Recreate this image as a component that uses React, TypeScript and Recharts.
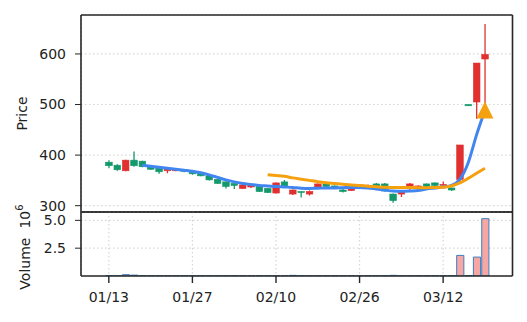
import { Bar, CartesianGrid, Cell, ComposedChart, Line, Scatter, XAxis, YAxis } from "recharts";

const dates = [
  "01/13", "01/14", "01/15", "01/16", "01/17", "01/20", "01/21", "01/22", "01/23", "01/24",
  "01/27", "01/28", "01/29", "01/30", "01/31", "02/03", "02/04", "02/05", "02/06", "02/07",
  "02/10", "02/11", "02/12", "02/13", "02/14", "02/18", "02/19", "02/20", "02/21", "02/24",
  "02/26", "02/27", "02/28", "03/03", "03/04", "03/05", "03/06", "03/07", "03/10", "03/11",
  "03/12", "03/13", "03/14", "03/17", "03/18", "03/19",
];

const opens = [
  379, 371, 390, 379, 377, 372, 367, 374, 372, 368,
  363, 359, 351, 344, 338, 340, 341, 341, 328, 326,
  345, 338, 331, 326, 328, 343, 338, 336, 328, 336,
  341, 340, 333, 329, 310, 328, 343, 339, 338, 340,
  342, 331, 420, 497.5, 582, 599,
];
const highs = [
  390, 382, 391, 407, 389, 380, 376, 375, 373, 372,
  368, 366, 360, 353, 348, 345, 342, 342, 339, 335,
  346, 351, 332, 328, 330, 344, 344, 340, 334, 337,
  343, 342, 345, 345, 324, 330, 345, 340, 344, 346,
  348, 336, 420, 500, 582, 659,
];
const lows = [
  374, 369, 368, 377, 376, 371, 363, 364, 368, 366,
  361, 358, 350, 343, 334, 333, 333, 335, 327, 325,
  324, 337, 321, 316, 320, 335, 336, 333, 326, 329,
  337, 336, 332, 328, 306, 317, 330, 336, 337, 339,
  340, 329, 344, 497, 472, 474,
];
const closes = [
  386, 380, 369, 390, 388, 378, 375, 369, 369, 371,
  367, 365, 359, 352, 347, 344, 334, 337, 338, 334,
  325, 347, 323, 328, 323, 336, 343, 339, 331, 330,
  338, 338, 343, 343, 323, 323, 336, 337, 343, 345,
  341, 335, 352, 500, 505, 590,
];
// volume in millions
const volumes = [
  0.02, 0.02, 0.12, 0.08, 0.02, 0.02, 0.01, 0.02, 0.01, 0.02,
  0.01, 0.02, 0.01, 0.02, 0.01, 0.02, 0.01, 0.01, 0.02, 0.01,
  0.02, 0.01, 0.06, 0.02, 0.01, 0.02, 0.01, 0.02, 0.01, 0.02,
  0.01, 0.02, 0.01, 0.02, 0.06, 0.02, 0.01, 0.02, 0.01, 0.02,
  0.02, 0.03, 1.85, 0.04, 1.7, 5.15,
];
const maFast = [
  null, null, null, null, 380, 378, 376, 374, 372, 370,
  368, 365, 361, 356, 351, 347, 344, 342, 340, 339,
  338, 337, 336, 334.5, 334, 334.5, 335, 335, 335.5, 336,
  336, 335, 333, 331, 329, 328.5, 329, 330, 333, 335,
  337, 340, 352, 385, 440, 488,
];
const maSlow = [
  null, null, null, null, null, null, null, null, null, null,
  null, null, null, null, null, null, null, null, null, 361,
  359.5, 358, 355, 352.5, 350, 347.5, 345.5, 344, 342.5, 341,
  340, 338.5, 337.5, 336.5, 336, 336, 336, 335.5, 335.5, 336,
  336.5, 339, 345, 354, 364, 374,
];
const markerIndex = [45];
const markerValue = [489];

const priceTicks = [300, 400, 500, 600];
const volumeTicks = [2.5, 5.0];
const dateTicks = [0, 10, 20, 30, 40];

const UP = "#13996b";
const DOWN = "#e0302f";
const BLUE = "#4186f0";
const ORANGE = "#f5a00e";
const AXIS = "#262626";
const FONT = "DejaVu Sans";

const rows = dates.map((d, i) => ({
  i,
  date: d,
  open: opens[i],
  high: highs[i],
  low: lows[i],
  close: closes[i],
  range: [lows[i], highs[i]],
  vol: volumes[i],
  fast: maFast[i],
  slow: maSlow[i],
}));
const markers = markerIndex.map((i, k) => ({ i, marker: markerValue[k] }));

const xDomain = [-3.33, 48.3];
const priceDomain = [287.5, 677];
const volDomain = [0, 5.75];
const tickStyle = { fontSize: 14, fontFamily: FONT, fill: "#222" };
const frameLine = { stroke: AXIS, strokeWidth: 1.6 };

function Candle(props: any) {
  const { x, y, width, height, payload } = props;
  if (x == null || !payload) return null;
  const { open, close, high, low } = payload;
  const top = Math.min(y, y + height);
  const h = Math.abs(height);
  const k = high === low ? 0 : h / (high - low);
  const yO = top + (high - open) * k;
  const yC = top + (high - close) * k;
  const color = close >= open ? UP : DOWN;
  const cx = x + width / 2;
  return (
    <g>
      <line x1={cx} x2={cx} y1={top} y2={top + h} stroke={color} strokeWidth={1.3} />
      <rect x={x} y={Math.min(yO, yC)} width={width} height={Math.max(1, Math.abs(yO - yC))} fill={color} stroke={color} strokeWidth={0.6} />
    </g>
  );
}

function Triangle(props: any) {
  const { cx, cy } = props;
  if (cx == null) return null;
  return <polygon points={`${cx},${cy - 8.5} ${cx - 8.5},${cy + 8.5} ${cx + 8.5},${cy + 8.5}`} fill={ORANGE} />;
}

function PriceTitle(props: any) {
  const { x, y, height } = props.viewBox;
  const cx = x + 22;
  const cy = y + height / 2;
  return (
    <text x={cx} y={cy} transform={`rotate(-90 ${cx} ${cy})`} textAnchor="middle" dominantBaseline="central" fontSize={14} fontFamily={FONT} fill="#222">
      Price
    </text>
  );
}

function VolumeTitle(props: any) {
  const { x, y, height } = props.viewBox;
  const cx = x + 25;
  const cy = y + height / 2 + 3;
  return (
    <text x={cx} y={cy} transform={`rotate(-90 ${cx} ${cy})`} textAnchor="middle" dominantBaseline="central" fontSize={14} fontFamily={FONT} fill="#222">
      Volume
      <tspan dx={9}>10</tspan>
      <tspan dy={-6} fontSize={10}>6</tspan>
    </text>
  );
}

export default function App() {
  return (
    <div style={{ position: "absolute", left: 0, top: 0, width: 527, height: 322, background: "#fff" }}>
      <div style={{ position: "absolute", left: 0, top: 0 }}>
        <ComposedChart width={527} height={213} data={rows} margin={{ top: 14, right: 13.5, bottom: 0, left: 0 }}>
          <CartesianGrid stroke="#d6d6d6" strokeDasharray="1.5 2.5" strokeWidth={1.2} />
          <XAxis dataKey="i" type="number" domain={xDomain} ticks={dateTicks} allowDataOverflow height={1} tick={false} tickLine={false} axisLine={frameLine} />
          <XAxis xAxisId="top" orientation="top" dataKey="i" type="number" domain={xDomain} ticks={dateTicks} allowDataOverflow height={1} tick={false} tickLine={false} axisLine={frameLine} />
          <YAxis domain={priceDomain} ticks={priceTicks} interval={0} allowDataOverflow width={81} tick={tickStyle} tickSize={6} tickMargin={9} tickLine={{ stroke: AXIS }} axisLine={frameLine} label={<PriceTitle />} />
          <YAxis yAxisId="r" orientation="right" domain={priceDomain} ticks={priceTicks} allowDataOverflow width={1} tick={false} tickLine={false} axisLine={frameLine} />
          <Bar dataKey="range" barSize={6.6} shape={<Candle />} isAnimationActive={false} />
          <Line dataKey="fast" type="monotone" stroke={BLUE} strokeWidth={3} dot={false} activeDot={false} isAnimationActive={false} />
          <Line dataKey="slow" type="monotone" stroke={ORANGE} strokeWidth={3} dot={false} activeDot={false} isAnimationActive={false} />
          <Scatter data={markers} dataKey="marker" shape={<Triangle />} isAnimationActive={false} />
        </ComposedChart>
      </div>
      <div style={{ position: "absolute", left: 0, top: 190 }}>
        <ComposedChart width={527} height={132} data={rows} margin={{ top: 21, right: 13.5, bottom: 0, left: 0 }}>
          <CartesianGrid stroke="#d6d6d6" strokeDasharray="1.5 2.5" strokeWidth={1.2} />
          <XAxis dataKey="i" type="number" domain={xDomain} ticks={dateTicks} interval={0} allowDataOverflow height={46} tick={tickStyle} tickFormatter={(v: number) => dates[v]} tickSize={7} tickMargin={9} tickLine={{ stroke: AXIS, strokeWidth: 1.4 }} axisLine={frameLine} />
          <XAxis xAxisId="top" orientation="top" dataKey="i" type="number" domain={xDomain} ticks={dateTicks} allowDataOverflow height={1} tick={false} tickLine={false} axisLine={frameLine} />
          <YAxis domain={volDomain} ticks={volumeTicks} interval={0} allowDataOverflow width={81} tick={tickStyle} tickFormatter={(v: number) => v.toFixed(1)} tickSize={6} tickMargin={9} tickLine={{ stroke: AXIS }} axisLine={frameLine} label={<VolumeTitle />} />
          <YAxis yAxisId="r" orientation="right" domain={volDomain} ticks={volumeTicks} allowDataOverflow width={1} tick={false} tickLine={false} axisLine={frameLine} />
          <Bar dataKey="vol" barSize={7.2} stroke="#3d7fc1" strokeWidth={1} isAnimationActive={false}>
            {rows.map((r) => (
              <Cell key={r.i} fill={r.close >= r.open ? "#8fd1b9" : "#f7a7a3"} />
            ))}
          </Bar>
        </ComposedChart>
      </div>
    </div>
  );
}
